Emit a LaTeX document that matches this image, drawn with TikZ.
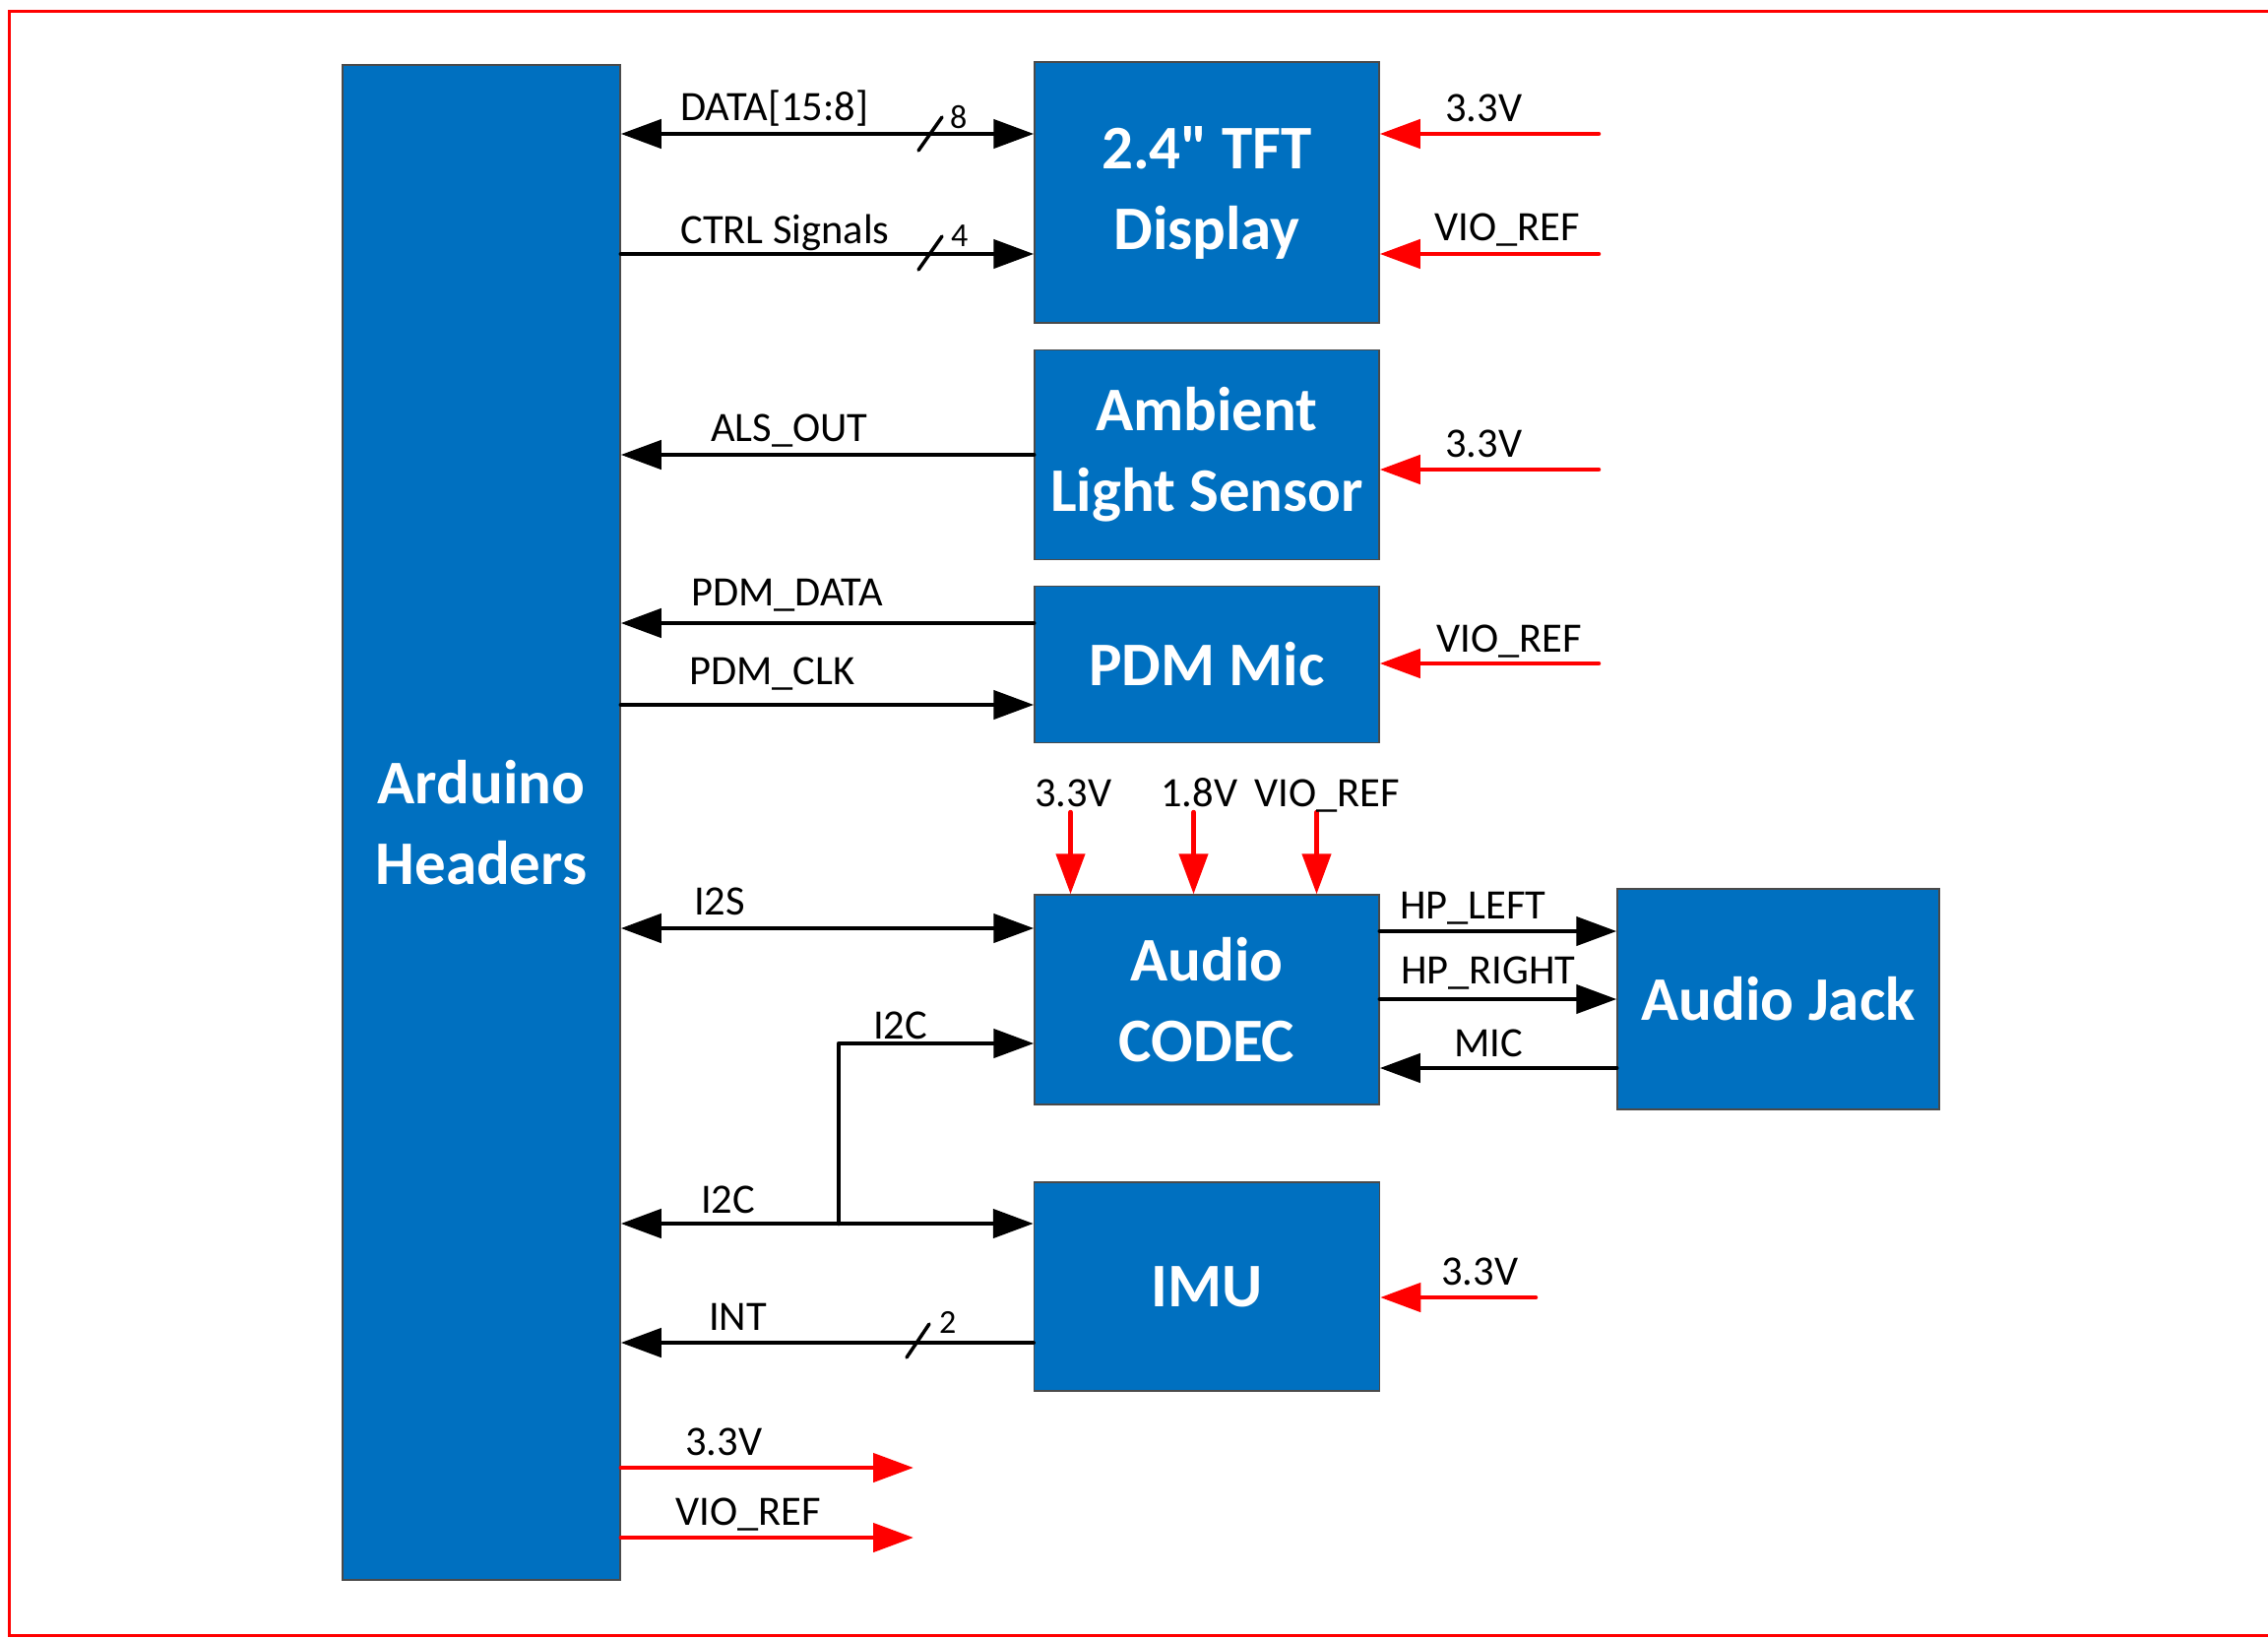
\documentclass[tikz,border=0pt]{standalone}
\usepackage{fontspec}
\setmainfont{Carlito}[Ligatures=TeXOff]
\usetikzlibrary{arrows.meta}
\definecolor{boxblue}{HTML}{0070C0}
\definecolor{pwrred}{HTML}{FF0000}
\definecolor{boxedge}{HTML}{4A4A4A}
\begin{document}
\begin{tikzpicture}[x=1pt,y=-1pt,
  blk/.style={draw=boxedge, line width=1.5pt, fill=boxblue, text=white, inner sep=0pt,
    align=center, font=\bfseries\fontsize{63}{82}\selectfont},
  lbl/.style={anchor=base west, inner sep=0pt, font=\fontsize{42.5}{50}\selectfont},
  num/.style={anchor=base west, inner sep=0pt, font=\fontsize{34}{40}\selectfont},
  sig/.style={line width=4.5pt, line cap=round, draw=black},
  pwr/.style={line width=4.5pt, line cap=round, draw=pwrred},
  tipend/.style={-{Triangle[length=41pt,width=29pt]}},
  tipboth/.style={{Triangle[length=41pt,width=29pt]}-{Triangle[length=41pt,width=29pt]}},
  busmark/.style={line width=3.5pt, line cap=round, draw=black}
]
\useasboundingbox (0,0) rectangle (2304,1663);
% outer frame
\draw[pwrred, line width=3pt] (2304,11) -- (9,11) -- (9,1661) -- (2304,1661);

% blocks
\node[blk, minimum width=282pt, minimum height=1539pt] (ard) at (489,835.5) {Arduino\\Headers};
\node[blk, minimum width=350pt, minimum height=265pt] (tft) at (1226,195.5) {2.4" TFT\\Display};
\node[blk, minimum width=350pt, minimum height=213pt] (als) at (1226,462) {Ambient\\Light Sensor};
\node[blk, minimum width=350pt, minimum height=159pt] (mic) at (1226,675) {PDM Mic};
\node[blk, minimum width=350pt, minimum height=213pt] (codec) at (1226,1015.5) {Audio\\CODEC};
\node[blk, minimum width=327pt, minimum height=224pt] (jack) at (1806.5,1015) {Audio Jack};
\node[blk, minimum width=351pt, minimum height=212pt] (imu) at (1226,1307) {IMU};

% signal levels
\coordinate (yDATA) at (0,136);
\coordinate (yCTRL) at (0,258);
\coordinate (yALS) at (0,462);
\coordinate (yPD) at (0,633);
\coordinate (yPC) at (0,716);
\coordinate (yI2S) at (0,943);
\coordinate (yHPL) at (0,946);
\coordinate (yHPR) at (0,1015);
\coordinate (yMIC) at (0,1085);
\coordinate (yI2Cu) at (0,1060);
\coordinate (yI2Cl) at (0,1243);
\coordinate (yINT) at (0,1364);

% power sources
\coordinate (pT1) at (1624,136);
\coordinate (pT2) at (1624,258);
\coordinate (pA1) at (1624,477);
\coordinate (pM1) at (1624,674);
\coordinate (pI1) at (1560,1318);
\coordinate (pC1) at (1087.5,825);
\coordinate (pC2) at (1212.5,825);
\coordinate (pC3) at (1337.5,825);
\coordinate (oP1) at (928,1491);
\coordinate (oP2) at (928,1562);

% bus marks
\coordinate (s1) at (945,136);
\coordinate (s2) at (945,257);
\coordinate (s3) at (932.5,1362);
\coordinate (jn) at (852,1243);

% signal connectors
\draw[sig, tipboth] (ard.east |- yDATA) -- (tft.west |- yDATA);
\draw[sig, tipend] (ard.east |- yCTRL) -- (tft.west |- yCTRL);
\draw[sig, tipend] (als.west |- yALS) -- (ard.east |- yALS);
\draw[sig, tipend] (mic.west |- yPD) -- (ard.east |- yPD);
\draw[sig, tipend] (ard.east |- yPC) -- (mic.west |- yPC);
\draw[sig, tipboth] (ard.east |- yI2S) -- (codec.west |- yI2S);
\draw[sig, tipend] (codec.east |- yHPL) -- (jack.west |- yHPL);
\draw[sig, tipend] (codec.east |- yHPR) -- (jack.west |- yHPR);
\draw[sig, tipend] (jack.west |- yMIC) -- (codec.east |- yMIC);
\draw[sig, tipboth] (ard.east |- yI2Cl) -- (imu.west |- yI2Cl);
\draw[sig, tipend, line join=round] (jn) -- (jn |- yI2Cu) -- (codec.west |- yI2Cu);
\draw[sig, tipend] (imu.west |- yINT) -- (ard.east |- yINT);

% bus width marks
\draw[busmark] ([xshift=-12pt,yshift=-17pt]s1) -- ([xshift=12pt,yshift=17pt]s1);
\draw[busmark] ([xshift=-12pt,yshift=-17pt]s2) -- ([xshift=12pt,yshift=17pt]s2);
\draw[busmark] ([xshift=-11.5pt,yshift=-17pt]s3) -- ([xshift=11.5pt,yshift=17pt]s3);

% power connectors
\draw[pwr, tipend] (pT1) -- (tft.east |- pT1);
\draw[pwr, tipend] (pT2) -- (tft.east |- pT2);
\draw[pwr, tipend] (pA1) -- (als.east |- pA1);
\draw[pwr, tipend] (pM1) -- (mic.east |- pM1);
\draw[pwr, tipend] (pI1) -- (imu.east |- pI1);
\draw[pwr, tipend] (pC1) -- (pC1 |- codec.north);
\draw[pwr, tipend] (pC2) -- (pC2 |- codec.north);
\draw[pwr, tipend] (pC3) -- (pC3 |- codec.north);
\draw[pwr, tipend] (ard.east |- oP1) -- (oP1);
\draw[pwr, tipend] (ard.east |- oP2) -- (oP2);

% labels
\node[lbl] (lData) at (691,122) {DATA[15:8]};
\node[num] (n8) at (965,130.5) {8};
\node[lbl] (lCtrl) at (691,247) {CTRL Signals};
\node[num] (n4) at (966,250) {4};
\node[lbl] (lT33) at (1468,123) {3.3V};
\node[lbl] (lTvio) at (1457,244) {VIO\_REF};
\node[lbl] (lAls) at (722,448) {ALS\_OUT};
\node[lbl] (lA33) at (1468,464) {3.3V};
\node[lbl] (lPd) at (702,615) {PDM\_DATA};
\node[lbl] (lPc) at (700,695) {PDM\_CLK};
\node[lbl] (lMvio) at (1459,662) {VIO\_REF};
\node[lbl] (lC33) at (1051,819) {3.3V};
\node[lbl] (lC18) at (1179,819) {1.8V};
\node[lbl] (lCvio) at (1274,819) {VIO\_REF};
\node[lbl] (lI2s) at (705,929) {I2S};
\node[lbl] (lHpl) at (1422,933) {HP\_LEFT};
\node[lbl] (lHpr) at (1423,999) {HP\_RIGHT};
\node[lbl] (lMic) at (1477,1073) {MIC};
\node[lbl] (lI2cu) at (887,1055) {I2C};
\node[lbl] (lI2cl) at (712,1232) {I2C};
\node[lbl] (lI33) at (1464,1305) {3.3V};
\node[lbl] (lInt) at (720,1351) {INT};
\node[num] (n2) at (954,1354) {2};
\node[lbl] (lO33) at (696,1478) {3.3V};
\node[lbl] (lOvio) at (686,1549) {VIO\_REF};
\end{tikzpicture}
\end{document}
